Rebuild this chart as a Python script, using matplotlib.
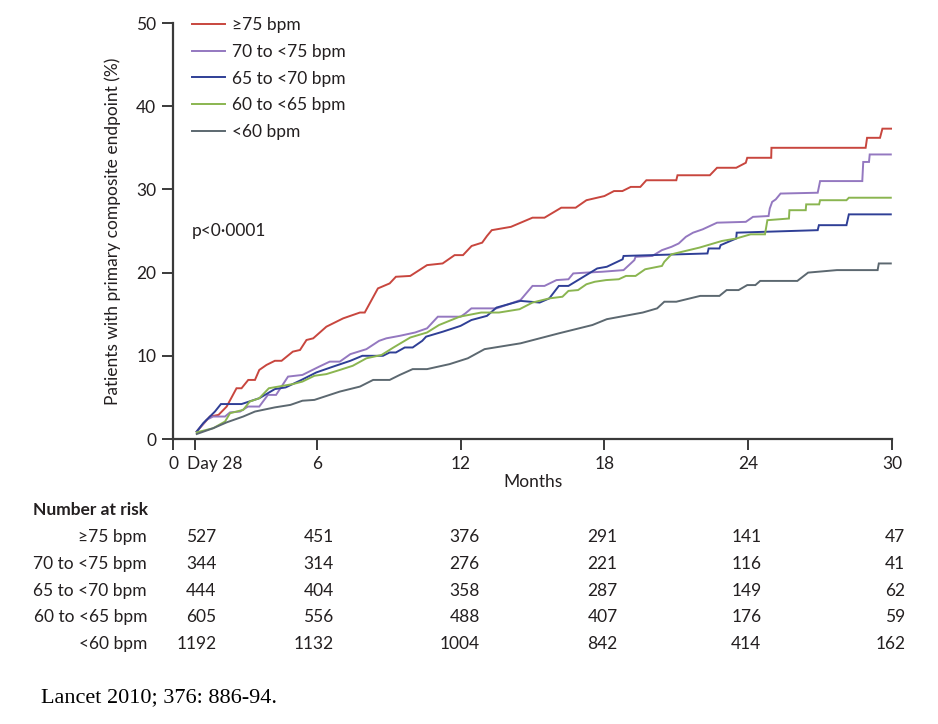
import matplotlib
matplotlib.use("Agg")
import matplotlib.pyplot as plt
import matplotlib.transforms as mtransforms

plt.rcParams['font.family'] = ['Lato', 'DejaVu Sans']

# ---------------- data ----------------
series_names = ["\u226575 bpm", "70 to <75 bpm", "65 to <70 bpm", "60 to <65 bpm", "<60 bpm"]

red_t = [0.99, 1.54, 1.9, 2.24, 2.65, 2.86, 3.14, 3.42, 3.6, 3.9, 4.25, 4.53, 5.0, 5.3, 5.57, 5.85,
         6.4, 7.1, 7.5, 7.8, 8.0, 8.55, 9.04, 9.3, 9.9, 10.6, 11.25, 11.75, 12.1, 12.46, 12.9, 13.1,
         13.3, 14.1, 15.0, 15.5, 16.2, 16.8, 17.25, 18.0, 18.4, 18.75, 19.1, 19.5, 19.75, 21.0, 21.05,
         22.4, 22.7, 23.5, 23.9, 23.96, 24.96, 24.97, 28.9, 28.96, 29.5, 29.6, 29.96]
red_v = [0.9, 2.7, 2.9, 3.9, 6.1, 6.1, 7.1, 7.1, 8.3, 8.9, 9.4, 9.4, 10.5, 10.7, 11.9, 12.1,
         13.5, 14.5, 14.9, 15.2, 15.2, 18.1, 18.7, 19.5, 19.6, 20.9, 21.1, 22.1, 22.1, 23.2, 23.6, 24.4,
         25.1, 25.5, 26.6, 26.6, 27.8, 27.8, 28.7, 29.2, 29.8, 29.8, 30.3, 30.3, 31.1, 31.1, 31.7,
         31.7, 32.6, 32.6, 33.2, 33.8, 33.8, 35.0, 35.0, 36.2, 36.2, 37.3, 37.3]

purple_t = [0.99, 1.4, 1.67, 2.17, 2.38, 2.8, 3.13, 3.6, 3.96, 4.3, 4.8, 5.4, 6.1, 6.54, 6.96, 7.4,
            8.07, 8.6, 8.9, 9.46, 10.1, 10.6, 11.05, 12.0, 12.2, 12.45, 13.5, 14.5, 15.0, 15.5, 16.0,
            16.5, 16.7, 17.25, 17.9, 18.8, 19.25, 19.3, 20.0, 20.4, 20.8, 21.1, 21.4, 21.7, 22.1, 22.7,
            23.9, 24.2, 24.85, 24.9, 25.0, 25.15, 25.35, 26.9, 27.0, 28.76, 28.8, 29.04, 29.07, 29.95]
purple_v = [0.9, 2.3, 2.7, 2.7, 3.2, 3.3, 3.9, 3.9, 5.3, 5.3, 7.5, 7.7, 8.7, 9.3, 9.3, 10.2,
            10.8, 11.8, 12.1, 12.4, 12.8, 13.3, 14.7, 14.7, 15.1, 15.7, 15.7, 16.7, 18.4, 18.4, 19.1,
            19.2, 19.9, 20.0, 20.1, 20.3, 21.5, 21.9, 22.0, 22.7, 23.1, 23.5, 24.3, 24.8, 25.2, 26.0,
            26.1, 26.7, 26.8, 27.7, 28.5, 28.8, 29.5, 29.6, 31.0, 31.0, 33.3, 33.3, 34.2, 34.2]

blue_t = [0.99, 1.26, 1.54, 1.75, 2.0, 2.86, 3.6, 4.25, 4.7, 5.36, 5.98, 6.68, 7.4, 7.9, 8.76, 9.04,
          9.3, 9.67, 10.0, 10.4, 10.56, 11.26, 12.0, 12.45, 13.1, 13.5, 14.5, 15.3, 15.7, 16.1, 16.5,
          17.7, 18.1, 18.76, 18.8, 22.3, 22.35, 22.8, 22.85, 23.5, 23.52, 26.9, 26.95, 28.1, 28.2, 29.95]
blue_v = [0.9, 1.9, 2.7, 3.3, 4.2, 4.2, 4.9, 6.0, 6.2, 7.1, 8.0, 8.7, 9.4, 10.0, 10.0, 10.4,
          10.4, 11.0, 11.0, 11.8, 12.3, 12.9, 13.6, 14.3, 14.8, 15.8, 16.6, 16.4, 16.9, 18.4, 18.4,
          20.5, 20.7, 21.6, 22.0, 22.3, 22.9, 22.9, 23.3, 24.1, 24.8, 25.1, 25.7, 25.7, 27.0, 27.0]

green_t = [0.99, 1.68, 2.17, 2.38, 2.93, 3.2, 3.6, 4.0, 5.0, 5.4, 5.9, 6.4, 6.96, 7.5, 8.07, 8.7,
           9.2, 9.9, 10.6, 11.1, 11.96, 12.86, 13.6, 14.46, 15.0, 15.7, 16.25, 16.5, 16.9, 17.25, 17.6,
           18.07, 18.6, 18.9, 19.3, 19.7, 20.4, 20.5, 20.8, 21.96, 22.9, 23.5, 24.1, 24.7, 24.8, 25.7,
           25.72, 26.4, 26.42, 26.96, 27.0, 28.1, 28.2, 29.95]
green_v = [0.8, 1.3, 2.1, 3.1, 3.5, 4.5, 4.9, 6.1, 6.6, 6.9, 7.6, 7.8, 8.3, 8.8, 9.7, 10.1,
           11.0, 12.2, 12.8, 13.7, 14.7, 15.2, 15.2, 15.6, 16.4, 16.9, 17.1, 17.8, 17.9, 18.6, 18.9,
           19.1, 19.2, 19.6, 19.6, 20.4, 20.8, 21.3, 22.2, 23.0, 23.8, 24.1, 24.6, 24.6, 26.3, 26.5,
           27.5, 27.5, 28.2, 28.2, 28.7, 28.7, 29.0, 29.0]

gray_t = [0.99, 1.68, 2.24, 2.93, 3.42, 4.25, 4.9, 5.4, 5.9, 6.96, 7.8, 8.35, 9.04, 9.46, 10.0, 10.6,
          11.54, 12.3, 13.0, 14.5, 16.1, 17.5, 18.1, 19.6, 20.2, 20.5, 21.0, 22.0, 22.8, 23.1, 23.6,
          23.96, 24.3, 24.5, 26.05, 26.5, 27.7, 29.4, 29.45, 29.95]
gray_v = [0.6, 1.3, 2.0, 2.7, 3.3, 3.8, 4.1, 4.6, 4.7, 5.7, 6.3, 7.1, 7.1, 7.7, 8.4, 8.4,
          9.0, 9.7, 10.8, 11.5, 12.7, 13.7, 14.4, 15.2, 15.7, 16.5, 16.5, 17.2, 17.2, 17.9, 17.9,
          18.5, 18.5, 19.0, 19.0, 20.0, 20.3, 20.3, 21.1, 21.1]

risk_times = [28 / 30.44, 6, 12, 18, 24, 30]
risk_counts = [
    [527, 451, 376, 291, 141, 47],
    [344, 314, 276, 221, 116, 41],
    [444, 404, 358, 287, 149, 62],
    [605, 556, 488, 407, 176, 59],
    [1192, 1132, 1004, 842, 414, 162],
]

x_ticks = [0, 28 / 30.44, 6, 12, 18, 24, 30]
x_tick_labels = ["0", "Day 28", "6", "12", "18", "24", "30"]
y_ticks = [0, 10, 20, 30, 40, 50]

# ---------------- style ----------------
colors = ["#c8463e", "#9478c0", "#2f3f96", "#8ab550", "#5c6870"]
axis_color = "#3a3a3a"
text_color = "#231f20"
fs = 12.5

W, H = 938, 724
fig = plt.figure(figsize=(W / 100, H / 100), dpi=100)
ax = fig.add_axes([173 / W, 1 - 439 / H, (892 - 173) / W, (439 - 23) / H])

all_t = [red_t, purple_t, blue_t, green_t, gray_t]
all_v = [red_v, purple_v, blue_v, green_v, gray_v]
for t, v, c, name in zip(all_t, all_v, colors, series_names):
    ax.plot(t, v, color=c, lw=1.4, label=name, solid_joinstyle='miter')

ax.set_xlim(0, 30)
ax.set_ylim(0, 50)
for s in ["top", "right"]:
    ax.spines[s].set_visible(False)
for s in ["left", "bottom"]:
    ax.spines[s].set_color(axis_color)
    ax.spines[s].set_linewidth(1.6)

ax.set_yticks(y_ticks)
ax.set_xticks(x_ticks)
ax.set_xticklabels(x_tick_labels)
ax.tick_params(axis='both', direction='out', length=8, width=1.4, color=axis_color,
               labelsize=fs, labelcolor=text_color, pad=4)
labs = ax.get_xticklabels()
offset = mtransforms.ScaledTranslation(-8 / 100, 0, fig.dpi_scale_trans)
labs[1].set_horizontalalignment('left')
labs[1].set_transform(labs[1].get_transform() + offset)

ax.set_ylabel("Patients with primary composite endpoint (%)", fontsize=fs, color=text_color, labelpad=11)
ax.set_xlabel("Months", fontsize=fs, color=text_color, labelpad=2)

leg = ax.legend(loc='upper left', bbox_to_anchor=(12 / 719, 1.031), frameon=False, fontsize=fs,
                handlelength=1.9, handletextpad=0.4, labelspacing=0.62, borderaxespad=0)
for txt in leg.get_texts():
    txt.set_color(text_color)

ax.text(0.8, 25.0, "p<0\u00b70001", fontsize=fs, color=text_color, va='center', ha='left')

# ---------------- risk table ----------------
bt = mtransforms.blended_transform_factory(ax.transData, fig.transFigure)
fig.text(33 / W, 1 - 510 / H, "Number at risk", fontsize=fs, fontweight='bold', color=text_color,
         ha='left', va='center')
row_y = [537, 564, 591, 617, 644]
col_shift = [0.9, 0.7, 0.8, 0.55, 0.55, 0.55]
for name, counts, yy in zip(series_names, risk_counts, row_y):
    fig.text(147 / W, 1 - yy / H, name, fontsize=fs, color=text_color, ha='right', va='center')
    for tt, n, sh in zip(risk_times, counts, col_shift):
        ax.text(tt + sh, 1 - yy / H, str(n), transform=bt, fontsize=fs, color=text_color,
                ha='right', va='center', clip_on=False)

fig.text(41 / W, 1 - 698 / H, "Lancet 2010; 376: 886-94.", fontsize=16,
         family=['Liberation Serif', 'DejaVu Serif'], color='black', ha='left', va='center')

fig.savefig("out.png", dpi=100)
